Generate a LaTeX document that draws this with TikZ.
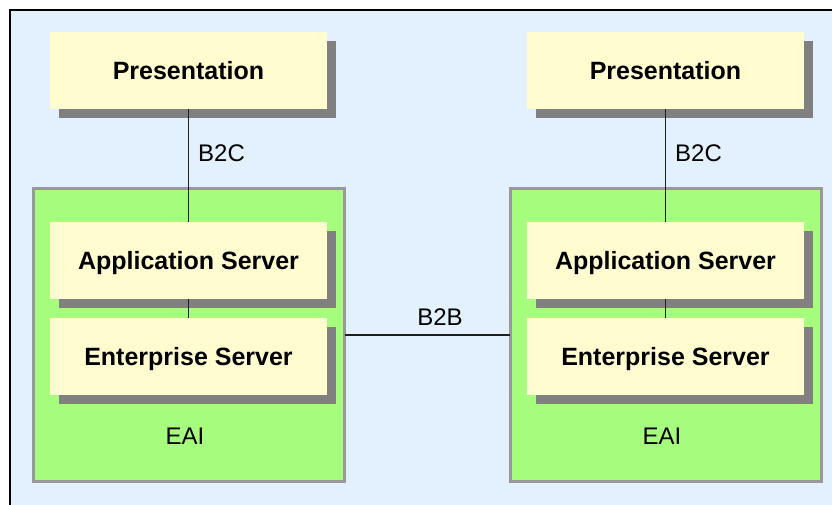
\documentclass[tikz,border=0pt]{standalone}
\usepackage{fontspec}
\setmainfont{Liberation Sans}
\usetikzlibrary{shadows}
\definecolor{bgblue}{RGB}{227,241,254}
\definecolor{tierfill}{RGB}{255,253,208}
\definecolor{eaifill}{RGB}{166,252,124}
\definecolor{eaiedge}{RGB}{153,153,153}
\definecolor{shadowgray}{RGB}{128,128,128}
\tikzset{
  tier/.style={fill=tierfill, draw=none, outer sep=0pt, inner sep=0pt,
    minimum width=277pt, minimum height=77pt, text height=18pt, text depth=0pt,
    font=\fontsize{25}{28}\selectfont\bfseries,
    drop shadow={shadow xshift=9pt, shadow yshift=-9pt, fill=shadowgray, opacity=1}},
  eai/.style={fill=eaifill, draw=eaiedge, line width=3pt, outer sep=0pt, inner sep=0pt,
    minimum width=311pt, minimum height=293pt},
  label/.style={font=\fontsize{24}{27}\selectfont, inner sep=0pt},
  link/.style={line width=1.2pt, draw={rgb,255:red,30;green,30;blue,30}}
}
\begin{document}
\begin{tikzpicture}[x=1pt, y=-1pt]
  \useasboundingbox (0,0) rectangle (832,504);
  \clip (0,0) rectangle (832,504);
  % canvas frame
  \draw[line width=2pt, fill=bgblue] (10,10) rectangle (850,520);

  % EAI containers
  \node[eai] (g1) at (189,335) {};
  \node[eai] (g2) at (665.5,335) {};

  % left column
  \node[tier] (p1) at (188.5,70.5) {Presentation};
  \node[tier] (a1) at (188.5,260.5) {Application Server};
  \node[tier] (e1) at (188.5,356.5) {Enterprise Server};

  % right column
  \node[tier] (p2) at (665.5,70.5) {Presentation};
  \node[tier] (a2) at (665.5,260.5) {Application Server};
  \node[tier] (e2) at (665.5,356.5) {Enterprise Server};

  % connectors
  \draw[link] (p1.south) -- (a1.north);
  \draw[link] (a1.south) -- (e1.north);
  \draw[link] (p2.south) -- (a2.north);
  \draw[link] (a2.south) -- (e2.north);
  \draw[link] (g1.east) -- (g2.west);

  % labels
  \node[label, anchor=west] (b2c1) at (198,153) {B2C};
  \node[label, anchor=west] (b2c2) at (675,153) {B2C};
  \node[label] (b2b) at (440,317) {B2B};
  \node[label] (eai1) at (185,436) {EAI};
  \node[label] (eai2) at (662,436) {EAI};
\end{tikzpicture}
\end{document}
